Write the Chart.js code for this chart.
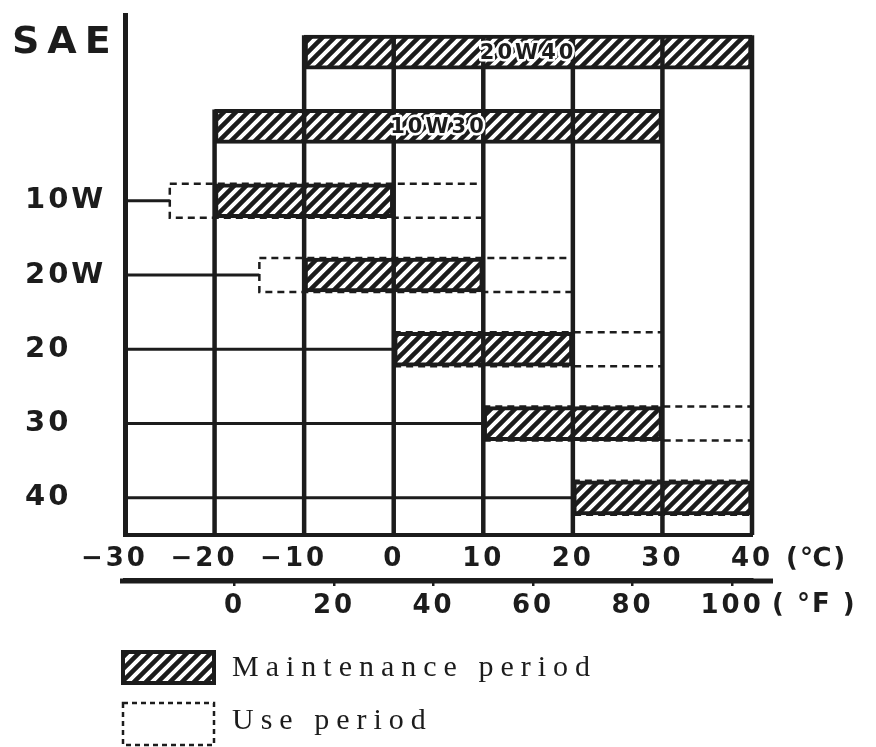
<!DOCTYPE html>
<html>
<head>
<meta charset="utf-8">
<script src="https://cdn.jsdelivr.net/npm/chart.js@4.4.0/dist/chart.umd.min.js"></script>
<style>
  html, body { margin: 0; padding: 0; background: #fff; }
</style>
</head>
<body>
<canvas id="oilChart" width="876" height="747"></canvas>
<script>
// SAE grades, top to bottom
const grades = ["20W40", "10W30", "10W", "20W", "20", "30", "40"];
const multiGrades = ["20W40", "10W30"];

// ambient temperature ranges in °C
const maintFrom = [-10, -20, -20, -10, 0, 10, 20];
const maintTo = [40, 30, 0, 10, 20, 30, 40];
const useFrom = [null, null, -25, -15, 0, 10, 20];
const useTo = [null, null, 10, 20, 30, 40, 40];

const celsiusTicks = [-30, -20, -10, 0, 10, 20, 30, 40];
const fahrenheitTicks = [0, 20, 40, 60, 80, 100];

const INK = "#1c1c1c";
const toF = c => c * 9 / 5 + 32;

const canvas = document.getElementById("oilChart");
const ctx = canvas.getContext("2d");

function makeHatch() {
    const c = document.createElement("canvas");
    c.width = 12;
    c.height = 12;
    const g = c.getContext("2d");
    g.fillStyle = "#fff";
    g.fillRect(0, 0, 12, 12);
    g.strokeStyle = INK;
    g.lineWidth = 4.5;
    g.beginPath();
    g.moveTo(-3, 15); g.lineTo(15, -3);
    g.moveTo(-9, 9); g.lineTo(9, -9);
    g.moveTo(3, 21); g.lineTo(21, 3);
    g.stroke();
    return ctx.createPattern(c, "repeat");
}
const hatch = makeHatch();

const tickFont = { family: "'DejaVu Sans'", size: 26, weight: "bold" };

const drawing = {
    id: "drawing",
    beforeDraw(chart) {
        chart.ctx.letterSpacing = "3px";
    },
    beforeDatasetsDraw(chart) {
        const c = chart.ctx, xs = chart.scales.x, ys = chart.scales.y;
        c.save();
        c.strokeStyle = INK;
        // lines from the axis to the first box of each single grade
        c.lineWidth = 3;
        grades.forEach((g, i) => {
            if (multiGrades.includes(g)) return;
            const start = Math.min(maintFrom[i], useFrom[i] ?? maintFrom[i]);
            const y = ys.getPixelForValue(i);
            c.beginPath();
            c.moveTo(xs.left, y);
            c.lineTo(xs.getPixelForValue(start), y);
            c.stroke();
        });
        // use period, dashed
        c.setLineDash([7, 5]);
        c.lineWidth = 2.5;
        chart.getDatasetMeta(1).data.forEach((el, i) => {
            if (useFrom[i] === null) return;
            const p = el.getProps(["x", "base", "y", "height"], true);
            c.strokeRect(Math.min(p.x, p.base), p.y - p.height / 2, Math.abs(p.x - p.base), p.height);
        });
        c.restore();
    },
    afterDatasetsDraw(chart) {
        const c = chart.ctx, xs = chart.scales.x, ys = chart.scales.y;
        const maintMeta = chart.getDatasetMeta(0);
        c.save();
        c.strokeStyle = INK;
        c.lineWidth = 4.5;
        // vertical temperature lines, up to the highest bar covering them
        celsiusTicks.forEach(t => {
            if (t === celsiusTicks[0]) return;
            let top = ys.bottom;
            maintMeta.data.forEach((el, i) => {
                if (maintFrom[i] <= t && t <= maintTo[i]) {
                    const p = el.getProps(["y", "height"], true);
                    top = Math.min(top, p.y - p.height / 2);
                }
            });
            const x = xs.getPixelForValue(t);
            c.beginPath();
            c.moveTo(x, top);
            c.lineTo(x, ys.bottom);
            c.stroke();
        });
        // names of the multigrade oils
        c.font = "bold 21px 'DejaVu Sans'";
        c.letterSpacing = "3px";
        c.textAlign = "center";
        c.textBaseline = "middle";
        c.lineJoin = "round";
        maintMeta.data.forEach((el, i) => {
            if (!multiGrades.includes(grades[i])) return;
            const p = el.getProps(["x", "base", "y"], true);
            const cx = (p.x + p.base) / 2;
            c.strokeStyle = "#fff";
            c.lineWidth = 5;
            c.strokeText(grades[i], cx, p.y + 1);
            c.fillStyle = INK;
            c.fillText(grades[i], cx, p.y + 1);
        });
        c.restore();
    },
    afterDraw(chart) {
        const c = chart.ctx, xs = chart.scales.x, x2 = chart.scales.x2, ys = chart.scales.y;
        c.save();
        c.fillStyle = INK;
        c.strokeStyle = INK;

        // the °F rule runs a little past the plot
        c.lineWidth = 5;
        c.beginPath();
        c.moveTo(x2.left - 5, x2.top + 1);
        c.lineTo(x2.right + 21, x2.top + 1);
        c.stroke();

        c.font = "bold 38px 'DejaVu Sans'";
        c.letterSpacing = "8px";
        c.textAlign = "left";
        c.textBaseline = "alphabetic";
        c.fillText("SAE", 12, ys.top + 38);

        // units after the last tick labels
        c.font = "bold 26px 'DejaVu Sans'";
        c.letterSpacing = "2px";
        c.textBaseline = "middle";
        c.fillText("(\u2103)", xs.getPixelForValue(celsiusTicks[celsiusTicks.length - 1]) + 34, xs.top + 24);
        c.fillText("( \u00b0F )", x2.getPixelForValue(fahrenheitTicks[fahrenheitTicks.length - 1]) + 40, x2.top + 25);

        // legend
        const lx = xs.left - 2;
        c.fillStyle = hatch;
        c.fillRect(lx, 652, 91, 31);
        c.lineWidth = 4;
        c.strokeRect(lx, 652, 91, 31);
        c.setLineDash([5, 4]);
        c.lineWidth = 2.5;
        c.strokeRect(lx, 703, 91, 42);
        c.setLineDash([]);

        c.fillStyle = INK;
        c.font = "30px 'Liberation Serif'";
        c.letterSpacing = "7px";
        c.textBaseline = "alphabetic";
        c.fillText("Maintenance period", 232, 676);
        c.fillText("Use period", 232, 729);
        c.restore();
        c.letterSpacing = "0px";
    }
};

new Chart(ctx, {
    type: "bar",
    data: {
        labels: grades,
        datasets: [
            {
                label: "Maintenance period",
                data: grades.map((g, i) => [maintFrom[i], maintTo[i]]),
                backgroundColor: hatch,
                borderColor: INK,
                borderWidth: 4,
                borderSkipped: false,
                barThickness: 34,
                grouped: false
            },
            {
                label: "Use period",
                data: grades.map((g, i) => useFrom[i] === null ? null : [useFrom[i], useTo[i]]),
                backgroundColor: "rgba(0,0,0,0)",
                borderWidth: 0,
                barThickness: 34,
                grouped: false
            }
        ]
    },
    options: {
        indexAxis: "y",
        responsive: false,
        animation: false,
        devicePixelRatio: 1,
        layout: { padding: { left: 25, top: 15, right: 124, bottom: 122 } },
        plugins: {
            legend: { display: false },
            tooltip: { enabled: false }
        },
        scales: {
            y: {
                type: "category",
                grid: { display: false, drawTicks: false },
                border: { display: true, color: INK, width: 5 },
                ticks: {
                    color: INK,
                    font: { family: "'DejaVu Sans'", size: 29, weight: "bold" },
                    crossAlign: "far",
                    padding: 16,
                    callback: (v, i) => multiGrades.includes(grades[i]) ? "" : grades[i]
                },
                afterFit(s) {
                    s.width = 100;
                    s.paddingTop = 0;
                    s.paddingBottom = 0;
                }
            },
            x: {
                type: "linear",
                position: "bottom",
                min: celsiusTicks[0],
                max: celsiusTicks[celsiusTicks.length - 1],
                grid: { display: false, drawTicks: false },
                border: { display: true, color: INK, width: 4 },
                afterBuildTicks(s) { s.ticks = celsiusTicks.map(v => ({ value: v })); },
                ticks: {
                    color: INK,
                    font: tickFont,
                    padding: 9,
                    maxRotation: 0,
                    autoSkip: false,
                    callback: v => v < 0 ? "\u2212" + (-v) + "\u2007" : String(v)
                },
                afterFit(s) { s.height = 45; }
            },
            x2: {
                type: "linear",
                position: "bottom",
                min: toF(celsiusTicks[0]),
                max: toF(celsiusTicks[celsiusTicks.length - 1]),
                grid: { display: true, drawOnChartArea: false, drawTicks: true, tickLength: 6, color: INK, lineWidth: 2.5 },
                border: { display: true, color: INK, width: 5 },
                afterBuildTicks(s) { s.ticks = fahrenheitTicks.map(v => ({ value: v })); },
                ticks: {
                    color: INK,
                    font: tickFont,
                    padding: 5,
                    maxRotation: 0,
                    autoSkip: false,
                    callback: v => String(v)
                },
                afterFit(s) { s.height = 45; }
            }
        }
    },
    plugins: [drawing]
});
</script>
</body>
</html>
